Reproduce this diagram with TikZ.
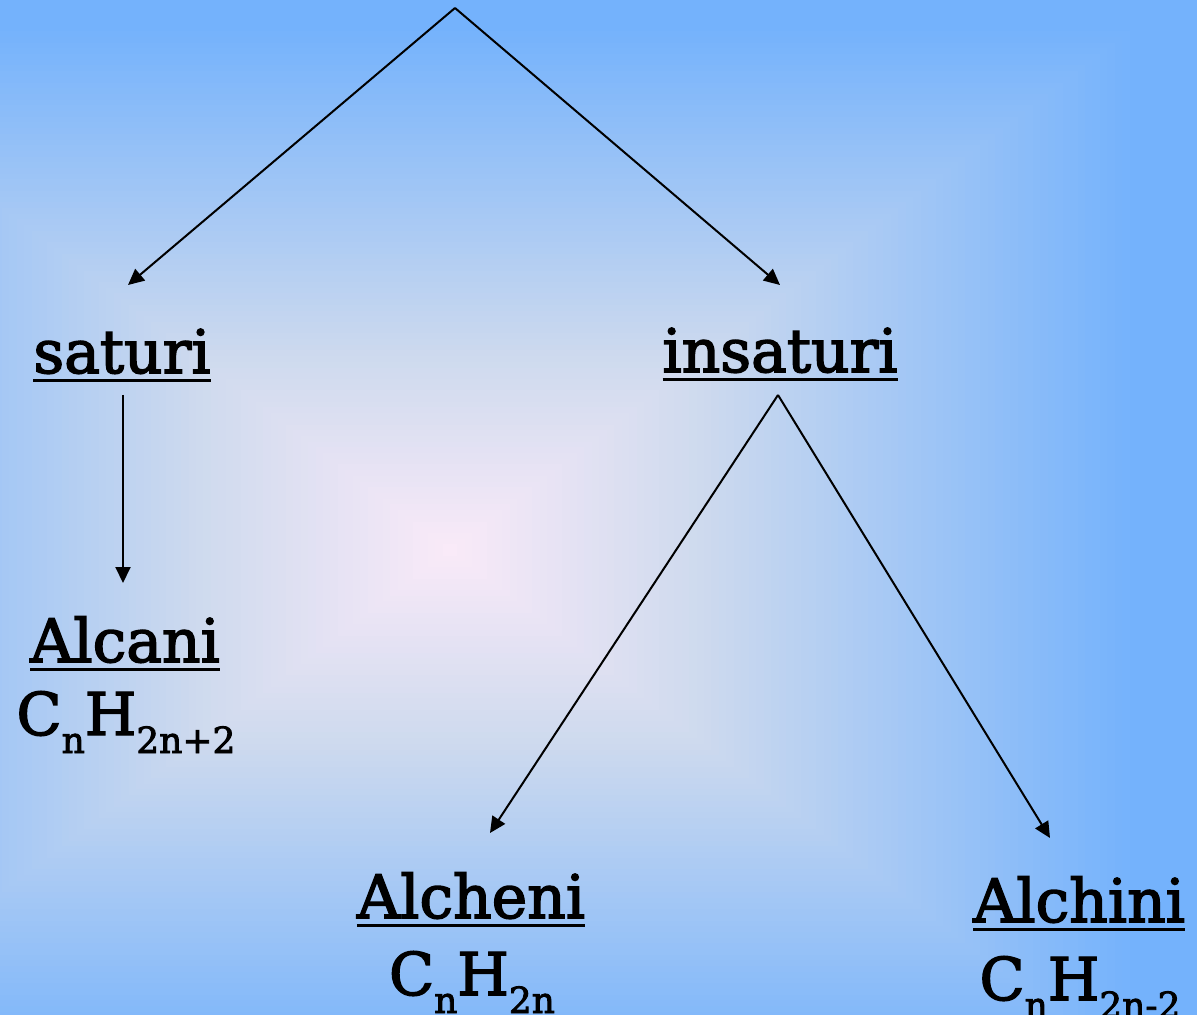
\documentclass[tikz,border=0pt]{standalone}
\usepackage{fontspec}
\setmainfont[FakeBold=2.5]{DejaVu Serif}
\usetikzlibrary{arrows.meta}
\definecolor{bgedge}{RGB}{116,178,252}
\definecolor{bgmid}{RGB}{206,218,238}
\definecolor{bgcore}{RGB}{250,234,248}
\newsavebox\ulbox
% underlined heading word
\newcommand\ulword[1]{\sbox\ulbox{#1}\rlap{\rule[-4.6pt]{\wd\ulbox}{1.6pt}}\usebox\ulbox}
% lowered index in a formula
\newcommand\lowsub[1]{\raisebox{-9pt}{\fontsize{18}{18}\selectfont #1}}
\tikzset{
  word/.style={inner sep=0pt, anchor=base, font=\fontsize{30}{36}\selectfont},
  formula/.style={inner sep=0pt, anchor=base, font=\fontsize{29.5}{36}\selectfont},
  arr/.style={line width=1pt, -{Triangle[length=8pt,width=7.5pt]}}
}
\begin{document}
\begin{tikzpicture}[x=0.5pt,y=-0.5pt]
\useasboundingbox (0,0) rectangle (1197,1015);
% background: rectangular glow from the centre, core -> mid -> edge
\begin{scope}
\clip (0,0) rectangle (1197,1015);
\fill[bgedge] (0,0) rectangle (1197,1015);
\foreach \i in {0,...,99}{
  \pgfmathsetmacro\t{1-\i/100}
  \pgfmathsetmacro\p{\t<0.34 ? 100*\t/0.34 : min(100,100*(\t-0.34)/0.58)}
  \ifdim\t pt<0.34pt
    \fill[bgmid!\p!bgcore] (450-747*\t,550-570*\t) rectangle (450+747*\t,550+570*\t);
  \else
    \fill[bgedge!\p!bgmid] (450-747*\t,550-570*\t) rectangle (450+747*\t,550+570*\t);
  \fi
}
\end{scope}

\coordinate (top) at (455,8);
\node[word] (saturi)   at (122,373) {\ulword{saturi}};
\node[word] (insaturi) at (780,372) {\ulword{insaturi}};
\node[word] (alcani)   at (125,662) {\ulword{Alcani}};
\node[formula] (alcaniF) at (126,735) {C\lowsub{n}H\lowsub{2n+2}};
\node[word] (alcheni)  at (471,918) {\ulword{Alcheni}};
\node[formula] (alcheniF) at (472,995) {C\lowsub{n}H\lowsub{2n}};
\node[word] (alchini)  at (1079,922) {\ulword{Alchini}};
\node[formula] (alchiniF) at (1080,1000) {C\lowsub{n}H\lowsub{2n-2}};

\draw[arr] (top) -- ([shift={(6,-88)}]saturi.base);
\draw[arr] (top) -- ([shift={(0,-87)}]insaturi.base);
\draw[arr] ([shift={(1,22)}]saturi.base) -- ([shift={(-2,-79)}]alcani.base);
\coordinate (fork) at ([shift={(-2,23)}]insaturi.base);
\draw[arr] (fork) -- ([shift={(19,-85)}]alcheni.base);
\draw[arr] (fork) -- ([shift={(-29,-84)}]alchini.base);
\end{tikzpicture}
\end{document}
